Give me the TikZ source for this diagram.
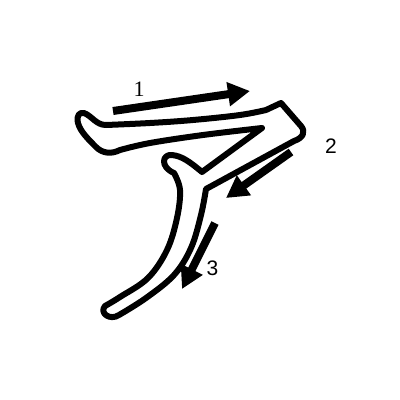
\documentclass[tikz,border=0pt]{standalone}
\usepackage{fontspec}
\setmainfont{Liberation Sans}
\newfontfamily\serifnum{Liberation Serif}
\usetikzlibrary{arrows.meta}
\begin{document}
\begin{tikzpicture}[x=1pt,y=-1pt,
  glyph/.style={line width=6pt, line join=round, line cap=round},
  strokearrow/.style={line width=8pt, -{Triangle[length=22pt,width=23pt]}},
  numlabel/.style={font=\fontsize{21}{21}\selectfont, inner sep=0pt}]
\useasboundingbox (0,0) rectangle (400,400);
\fill[white] (0,0) rectangle (400,400);
% glyph outline
\draw[glyph]
  (281,103) -- (301,126) .. controls (306,132) and (303,138) .. (294,141)
  -- (206,189)
  -- plot[smooth, tension=0.6] coordinates {(206,189) (201,215) (191,248) (174,275) (146,298) (119,315)}
  .. controls (110,321) and (99,313) .. (105,306)
  -- plot[smooth, tension=0.6] coordinates {(105,306) (120,297) (148,278) (167,250) (177,218) (180,190) (174,173)}
  .. controls (160,167) and (162,154) .. (172,155)
  .. controls (182,156) and (190,162) .. (202,172)
  -- (262,128)
  -- plot[smooth, tension=0.6] coordinates {(262,128) (203,135) (150,143) (120,150)}
  .. controls (112,154) and (103,154) .. (96,147)
  .. controls (88,139) and (80,131) .. (78,123)
  .. controls (76,115) and (80,112) .. (84,113)
  .. controls (92,116) and (96,125) .. (106,125)
  -- plot[smooth, tension=0.6] coordinates {(106,125) (150,123) (193,120) (240,115) (266,110)}
  -- cycle;
% stroke arrows
\coordinate (a1s) at (113,111);
\coordinate (a1e) at (250,91);
\coordinate (a2s) at (291,152);
\coordinate (a2e) at (226,198);
\coordinate (a3s) at (215,223);
\coordinate (a3e) at (182,289);
\draw[strokearrow] (a1s) -- (a1e);
\draw[strokearrow] (a2s) -- (a2e);
\draw[strokearrow] (a3s) -- (a3e);
% labels
\node[numlabel, font=\serifnum\fontsize{22}{22}\selectfont] (n1) at (139,89) {1};
\node[numlabel] (n2) at (331,146) {2};
\node[numlabel] (n3) at (212.5,268) {3};
\end{tikzpicture}
\end{document}
